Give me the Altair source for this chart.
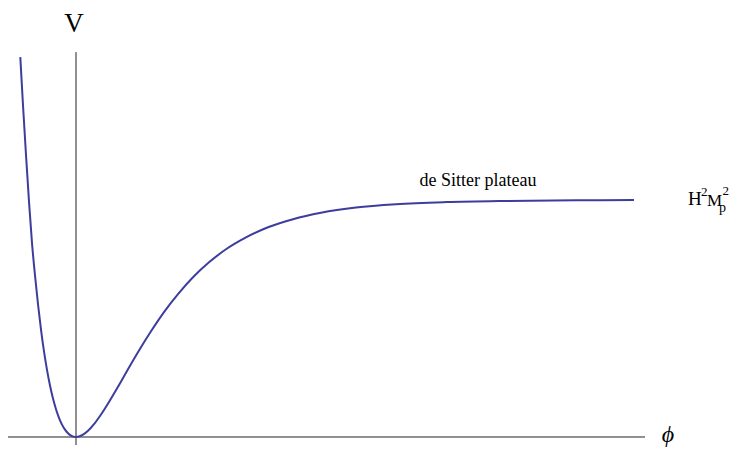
import altair as alt
import pandas as pd

# Potential curve (phi, V), V normalised to plateau = 1
phi_vals = [-0.557, -0.53, -0.50, -0.47, -0.44, -0.41, -0.38, -0.35, -0.32, -0.29,
            -0.26, -0.23, -0.20, -0.17, -0.14, -0.11, -0.08, -0.05, -0.025, 0.0,
            0.03, 0.07, 0.12, 0.18, 0.25, 0.33, 0.42, 0.52, 0.63, 0.75,
            0.88, 1.02, 1.17, 1.33, 1.50, 1.70, 1.92, 2.17, 2.45, 2.80,
            3.20, 3.70, 4.30, 5.00, 5.58]
v_vals = [1.603, 1.400, 1.190, 0.993, 0.818, 0.682, 0.560, 0.453, 0.361, 0.283,
          0.217, 0.162, 0.117, 0.081, 0.052, 0.031, 0.016, 0.006, 0.0014, 0.0,
          0.0019, 0.0096, 0.026, 0.054, 0.095, 0.148, 0.212, 0.286, 0.365, 0.446,
          0.527, 0.603, 0.674, 0.737, 0.792, 0.842, 0.885, 0.919, 0.946, 0.968,
          0.982, 0.991, 0.996, 0.9987, 0.9995]

# axis extents
h_axis_phi = [-0.68, 5.69]
v_axis_v = [-0.034, 1.624]

# labels
label_text = ["V", "de Sitter plateau", "\u03d5"]
label_phi = [-0.02, 4.02, 5.92]
label_v = [1.709, 1.059, -0.021]
label_size = [27, 18, 24]
label_style = ["normal", "normal", "italic"]

# H^2 M_p^2 pieces
hm_text = ["H", "2", "M", "p", "2"]
hm_phi = [6.12, 6.25, 6.31, 6.43, 6.465]
hm_v = [0.979, 1.017, 0.975, 0.949, 1.021]
hm_size = [19, 13, 17, 14, 13]

X_DOM = [-0.68, 6.54]
Y_DOM = [-0.0507, 1.8101]
xs = alt.Scale(domain=X_DOM, nice=False, zero=False)
ys = alt.Scale(domain=Y_DOM, nice=False, zero=False)

curve_df = pd.DataFrame({"phi": phi_vals, "V": v_vals})
haxis_df = pd.DataFrame({"phi": [h_axis_phi[0]], "phi2": [h_axis_phi[1]], "V": [0.0]})
vaxis_df = pd.DataFrame({"phi": [0.0], "V": [v_axis_v[0]], "V2": [v_axis_v[1]]})
lab_df = pd.DataFrame({"t": label_text, "phi": label_phi, "V": label_v})
hm_df = pd.DataFrame({"t": hm_text, "phi": hm_phi, "V": hm_v})

axis_color = "#222222"
curve_color = "#3d3d9e"
font = "Liberation Serif"

haxis = alt.Chart(haxis_df).mark_rule(color=axis_color, strokeWidth=1).encode(
    x=alt.X("phi:Q", scale=xs, axis=None), x2="phi2:Q",
    y=alt.Y("V:Q", scale=ys, axis=None))
vaxis = alt.Chart(vaxis_df).mark_rule(color=axis_color, strokeWidth=1).encode(
    x=alt.X("phi:Q", scale=xs, axis=None),
    y=alt.Y("V:Q", scale=ys, axis=None), y2="V2:Q")
curve = alt.Chart(curve_df).mark_line(color=curve_color, strokeWidth=2,
                                      interpolate="monotone").encode(
    x=alt.X("phi:Q", scale=xs, axis=None),
    y=alt.Y("V:Q", scale=ys, axis=None),
    order="phi:Q")

labels = []
for i in range(len(label_text)):
    d = lab_df.iloc[[i]]
    labels.append(alt.Chart(d).mark_text(font=font, fontSize=int(label_size[i]),
                                         fontStyle=label_style[i], align="center",
                                         baseline="alphabetic", color="black").encode(
        x=alt.X("phi:Q", scale=xs, axis=None),
        y=alt.Y("V:Q", scale=ys, axis=None), text="t:N"))
for i in range(len(hm_text)):
    d = hm_df.iloc[[i]]
    labels.append(alt.Chart(d).mark_text(font=font, fontSize=int(hm_size[i]),
                                         align="left", baseline="alphabetic",
                                         color="black").encode(
        x=alt.X("phi:Q", scale=xs, axis=None),
        y=alt.Y("V:Q", scale=ys, axis=None), text="t:N"))

chart = alt.layer(haxis, vaxis, curve, *labels).properties(
    width=722, height=441,
    autosize=alt.AutoSizeParams(type="none"),
    padding=0,
).configure(background="white", view=alt.ViewConfig(stroke=None))

chart.save("out.html", embed_options={"renderer": "svg", "actions": False})
